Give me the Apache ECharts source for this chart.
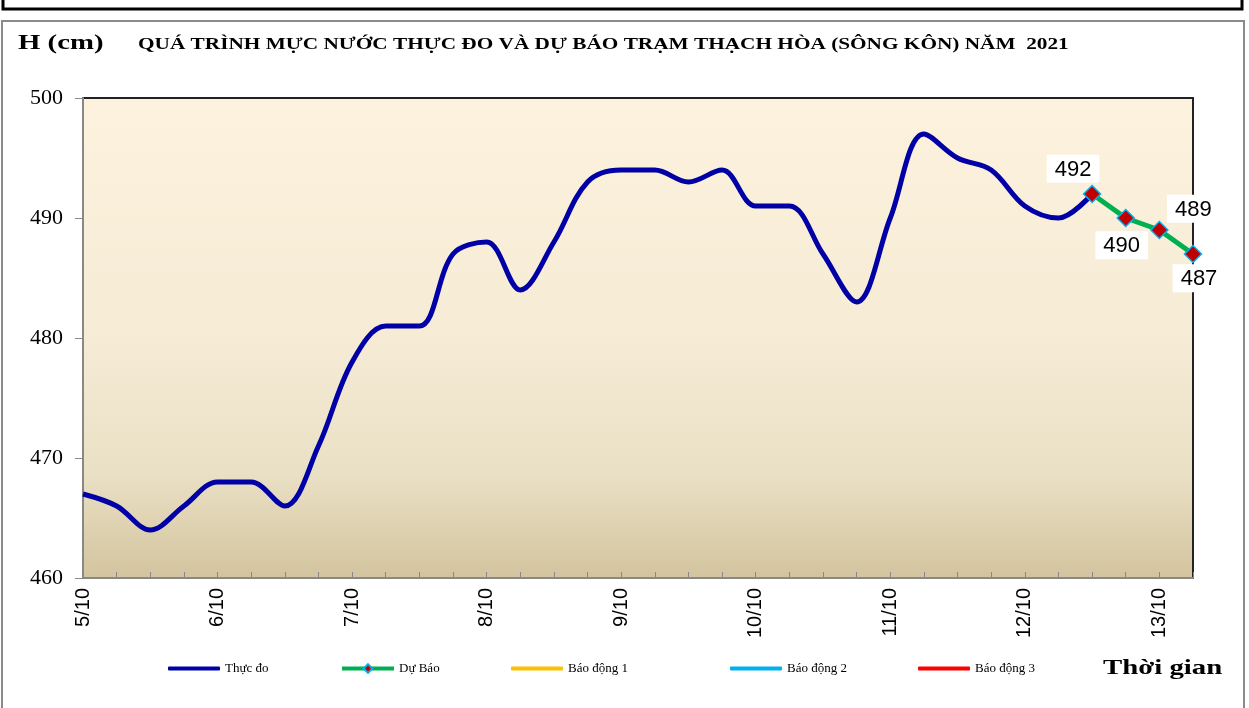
<!DOCTYPE html>
<html>
<head>
<meta charset="utf-8">
<script src="https://cdn.jsdelivr.net/npm/echarts@6/dist/echarts.min.js"></script>
<style>html,body{margin:0;padding:0;background:#fff;}#c{width:1249px;height:708px;}</style>
</head>
<body>
<div id="c"></div>
<script>
// Time slots every 6 hours from 5/10 00h to 13/10 06h
const days = ['5/10','6/10','7/10','8/10','9/10','10/10','11/10','12/10','13/10'];
const hours = ['00h','06h','12h','18h'];
const categories = [];
days.forEach(d => hours.forEach(h => categories.push(d + ' ' + h)));
categories.length = 34;

const observed = [467,466,464,466,468,468,466,471,478,481,481,487,488,484,488,493,494,494,493,494,491,491,487,483,490,497,495,494,491,490,492];
const forecast = [492,490,489,487];
const forecastStart = 30;

const observedData = observed.concat(new Array(categories.length - observed.length).fill(null));
const forecastData = new Array(forecastStart).fill(null).concat(forecast);

const yTicks = {min:460, max:500, interval:10};
const legendNames = ['Thực đo','Dự Báo','Báo động 1','Báo động 2','Báo động 3'];
const seriesColors = ['#0000A6','#00B050','#FFC000','#00B0F0','#FF0000'];

const labelCfg = [
  {position:'top', offset:[-19,3]},
  {position:'bottom', offset:[-4,-1]},
  {position:'top', offset:[34,7]},
  {position:'bottom', offset:[6,-4]}
];

const chart = echarts.init(document.getElementById('c'));
const serif = 'Liberation Serif';
const sans = 'Liberation Sans';
const legendLeft = [163,335,506,725,913];

const fcData = forecastData.map((v,i) => {
  if (v === null) return null;
  const k = i - forecastStart;
  return {value:v, label:{show:true, position:labelCfg[k].position, offset:labelCfg[k].offset}};
});

chart.setOption({
  animation:false,
  backgroundColor:'#fff',
  graphic:[
    {type:'rect', shape:{x:3, y:-20, width:1239, height:29}, style:{fill:'none', stroke:'#000', lineWidth:3}},
    {type:'rect', shape:{x:2, y:21, width:1242, height:700}, style:{fill:'none', stroke:'#8a8a8a', lineWidth:2}},
    {type:'text', x:18, y:44, scaleX:1.37, style:{text:'H (cm)', font:'bold 21px "Liberation Serif"', fill:'#000', verticalAlign:'middle'}},
    {type:'text', x:138, y:45, scaleX:1.33, style:{text:'QUÁ TRÌNH MỰC NƯỚC THỰC ĐO VÀ DỰ BÁO TRẠM THẠCH HÒA (SÔNG KÔN) NĂM  2021', font:'bold 16px "Liberation Serif"', fill:'#000', verticalAlign:'middle'}},
    {type:'text', x:1103, y:668, scaleX:1.31, style:{text:'Thời gian', font:'bold 22px "Liberation Serif"', fill:'#000', verticalAlign:'middle'}}
  ],
  legend: legendNames.map((n,i) => (i === 1 ? {
    data:[n], left:legendLeft[i], top:657, itemWidth:52, itemHeight:11,
    lineStyle:{width:4},
    textStyle:{fontFamily:serif, fontSize:13, color:'#000'}, selectedMode:false
  } : {
    data:[{name:n, icon:'roundRect'}], left:legendLeft[i], top:657, itemWidth:52, itemHeight:4,
    textStyle:{fontFamily:serif, fontSize:13, color:'#000'}, selectedMode:false
  })),
  grid:{left:83, top:98, right:56, bottom:130, show:true, borderWidth:2, borderColor:'#222',
    backgroundColor:new echarts.graphic.LinearGradient(0,0,0,1,[
      {offset:0, color:'#FDF2DD'},{offset:0.5, color:'#F6ECD6'},{offset:0.78, color:'#EAE0C5'},{offset:1, color:'#D3C49E'}])},
  xAxis:{type:'category', data:categories, boundaryGap:false,
    axisLine:{lineStyle:{color:'#888', width:2}},
    axisTick:{inside:true, interval:0, length:6, lineStyle:{color:'#888'}},
    axisLabel:{interval:(i)=>i%4===0, rotate:90, margin:10, fontFamily:sans, fontSize:20, color:'#000',
      formatter:(v)=>v.split(' ')[0]},
    splitLine:{show:false}},
  yAxis:{type:'value', min:yTicks.min, max:yTicks.max, interval:yTicks.interval,
    axisLine:{show:true, lineStyle:{color:'#888', width:2}},
    axisTick:{show:true, length:8, lineStyle:{color:'#888'}},
    axisLabel:{fontFamily:serif, fontSize:22, color:'#000', margin:20},
    splitLine:{show:false}},
  series:[
    {name:'Thực đo', type:'line', data:observedData, smooth:0.35, showSymbol:false, symbol:'none',
      lineStyle:{color:seriesColors[0], width:5}, itemStyle:{color:seriesColors[0]}, z:3},
    {name:'Dự Báo', type:'line', data:fcData, smooth:false, symbol:'diamond', symbolSize:17, showSymbol:true,
      lineStyle:{color:seriesColors[1], width:5}, itemStyle:{color:'#C00000', borderColor:'#00B0F0', borderWidth:1.5},
      label:{fontFamily:sans, fontSize:22, color:'#000', backgroundColor:'#fff', padding:[4,8,2,8]}, z:4},
    {name:'Báo động 1', type:'line', data:[], symbol:'none', lineStyle:{color:seriesColors[2], width:5}, itemStyle:{color:seriesColors[2]}},
    {name:'Báo động 2', type:'line', data:[], symbol:'none', lineStyle:{color:seriesColors[3], width:5}, itemStyle:{color:seriesColors[3]}},
    {name:'Báo động 3', type:'line', data:[], symbol:'none', lineStyle:{color:seriesColors[4], width:5}, itemStyle:{color:seriesColors[4]}}
  ]
});
</script>
</body>
</html>
